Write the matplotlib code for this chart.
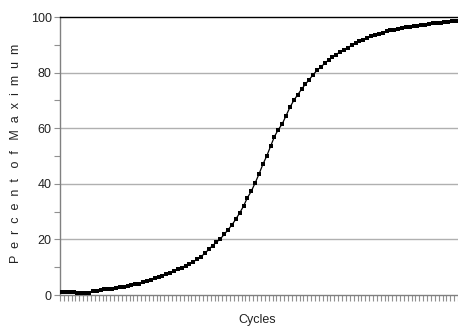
import matplotlib
matplotlib.use("Agg")
import matplotlib.pyplot as plt
import numpy as np

plt.rcParams['font.family'] = ['Liberation Sans', 'DejaVu Sans']

percent = [1.0, 1.0, 1.0, 1.0, 0.6, 0.6, 0.6, 0.6, 1.5, 1.6,
           1.8, 2.0, 2.1, 2.3, 2.5, 2.8, 3.0, 3.2, 3.5, 3.8,
           4.0, 4.5, 5.0, 5.5, 6.0, 6.5, 7.0, 7.5, 8.0, 8.5,
           9.2, 9.8, 10.6, 11.3, 12.0, 12.8, 13.8, 15.0, 16.4, 17.8,
           19.0, 20.2, 21.8, 23.5, 25.2, 27.3, 29.5, 32.0, 35.0, 37.3,
           40.3, 43.5, 47.0, 50.0, 53.5, 57.0, 59.5, 61.5, 64.5, 67.5,
           70.0, 72.0, 74.0, 75.8, 77.5, 79.2, 80.8, 82.0, 83.3, 84.5,
           85.5, 86.5, 87.5, 88.3, 89.0, 89.8, 90.5, 91.2, 91.8, 92.4,
           93.0, 93.5, 94.0, 94.4, 94.8, 95.2, 95.5, 95.8, 96.1, 96.3,
           96.5, 96.7, 96.9, 97.1, 97.3, 97.5, 97.7, 97.9, 98.0, 98.2,
           98.3, 98.5, 98.6]
cycles = list(range(1, len(percent) + 1))
y_ticks = [0, 20, 40, 60, 80, 100]
y_label = "P  e  r  c  e  n  t   o  f   M  a  x  i  m  u  m"
x_label = "Cycles"

W, H = 458, 327
fig = plt.figure(figsize=(W / 100, H / 100), dpi=100)
ax = fig.add_axes([60 / W, (H - 295) / H, (W - 60) / W, (295 - 17) / H])

x = np.arange(len(percent))
ax.plot(x, percent, color='black', linewidth=0.9, zorder=3)
ax.plot(x, percent, linestyle='none', marker='s', markersize=3.4,
        color='black', markeredgewidth=0, zorder=4)

ax.set_xlim(-0.5, len(percent) - 0.5)
ax.set_ylim(0, 100)

ax.set_xticks(np.arange(len(percent) + 1) - 0.5)
ax.set_xticklabels([])
ax.tick_params(axis='x', direction='out', length=4, width=0.8, color='#909090')

ax.set_yticks(y_ticks)
ax.set_yticks([10, 30, 50, 70, 90], minor=True)
ax.tick_params(axis='y', which='both', direction='out', length=4, width=0.8,
               color='#909090', labelsize=9, pad=2, labelcolor='#222222')
for g in y_ticks[1:-1]:
    ax.axhline(g, color='#b0b0b0', linewidth=1.0, zorder=1)

ax.spines['right'].set_visible(False)
ax.spines['top'].set_color('black')
ax.spines['top'].set_linewidth(1.0)
ax.spines['left'].set_color('#808080')
ax.spines['bottom'].set_color('#808080')
ax.spines['left'].set_linewidth(1.0)
ax.spines['bottom'].set_linewidth(1.0)

fig.text(257 / W, 1 - 320 / H, x_label, ha='center', va='center', fontsize=9,
         color='#222222')
fig.text(16 / W, 1 - 153 / H, y_label, ha='center', va='center',
         rotation=90, fontsize=9, color='#222222')

fig.savefig("out.png", dpi=100)
